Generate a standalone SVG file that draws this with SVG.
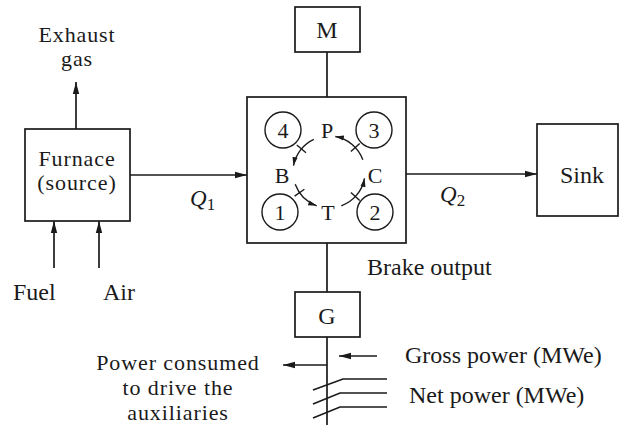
<svg xmlns="http://www.w3.org/2000/svg" width="620" height="425" viewBox="0 0 620 425">
<defs>
<marker id="ah" viewBox="0 0 12 8" refX="12" refY="4" markerWidth="12" markerHeight="8" markerUnits="userSpaceOnUse" orient="auto">
<path d="M0,0.8 L12,4 L0,7.2 z" fill="#1a1a1a"/>
</marker>
<marker id="ahs" viewBox="0 0 10 7" refX="10" refY="3.5" markerWidth="9" markerHeight="6" markerUnits="userSpaceOnUse" orient="auto">
<path d="M0,0.5 L10,3.5 L0,6.5 z" fill="#1a1a1a"/>
</marker>
<style>
.box{fill:#fff;stroke:#1a1a1a;stroke-width:1.7}
.ln{fill:none;stroke:#1a1a1a;stroke-width:1.7}
.thin{fill:none;stroke:#1a1a1a;stroke-width:1.4}
.arr{marker-end:url(#ah)}
.arrs{marker-end:url(#ahs)}
text{font-family:"Liberation Serif","Times New Roman",serif;fill:#1a1a1a;font-size:24px}
.c{text-anchor:middle}
.s{font-size:22px}
.m{font-size:22px;letter-spacing:0.9px}
.q{font-style:italic;font-size:23px}
.sub{font-size:17px}
</style>
</defs>

<g id="connectors">
<line class="ln arr" x1="76" y1="129" x2="76" y2="82"/>
<line class="ln arr" x1="54" y1="268" x2="54" y2="221"/>
<line class="ln arr" x1="99" y1="268" x2="99" y2="221"/>
<line class="ln arr" x1="130" y1="175" x2="247" y2="175"/>
<line class="ln arr" x1="406" y1="174" x2="537" y2="174"/>
<line class="ln" x1="327" y1="52" x2="327" y2="97"/>
<line class="ln" x1="327" y1="243" x2="327" y2="292"/>
<line class="ln" x1="327" y1="337" x2="327" y2="425"/>
<line class="ln arr" x1="327" y1="365" x2="283" y2="365"/>
<line class="ln arr" x1="377" y1="356" x2="339" y2="356"/>
<polyline class="ln" points="313,390 343,379 387,379"/>
<polyline class="ln" points="313,404 340,393 387,393"/>
<polyline class="ln" points="313,418 340,407 387,407"/>
</g>

<g id="furnace">
<rect class="box" x="25" y="129" width="105" height="92"/>
<text class="c m" x="77" y="166">Furnace</text>
<text class="c m" x="77" y="190">(source)</text>
</g>
<g id="exhaust">
<text class="c m" x="77" y="42">Exhaust</text>
<text class="c m" x="77" y="66">gas</text>
</g>
<g id="fuel"><text x="13" y="300">Fuel</text></g>
<g id="air"><text x="103" y="300">Air</text></g>
<g id="q1"><text class="q" x="190" y="206">Q<tspan class="sub" dy="4" font-style="normal">1</tspan></text></g>
<g id="q2"><text class="q" x="440" y="202">Q<tspan class="sub" dy="4" font-style="normal">2</tspan></text></g>

<g id="m">
<rect class="box" x="295" y="7" width="65" height="45"/>
<text class="c" x="327" y="38">M</text>
</g>

<g id="engine">
<rect class="box" x="247" y="97" width="159" height="146"/>
<circle class="thin" cx="283" cy="130" r="18"/>
<circle class="thin" cx="374" cy="130" r="18"/>
<circle class="thin" cx="280" cy="212" r="18"/>
<circle class="thin" cx="375" cy="212" r="18"/>
<text class="c s" x="283" y="138">4</text>
<text class="c s" x="374" y="138">3</text>
<text class="c s" x="280" y="220">1</text>
<text class="c s" x="375" y="220">2</text>
<text class="c s" x="327" y="138">P</text>
<text class="c s" x="282" y="183">B</text>
<text class="c s" x="375" y="183">C</text>
<text class="c s" x="328" y="220">T</text>
<path class="thin arrs" d="M313.8,139.4 A36,36 0 0 0 293.5,165.7"/>
<path class="thin arrs" d="M295.2,184.3 A36,36 0 0 0 316.7,205.8"/>
<path class="thin arrs" d="M341.3,205.8 A36,36 0 0 0 364.5,178.3"/>
<path class="thin arrs" d="M362.8,159.7 A36,36 0 0 0 335.3,136.5"/>
<line class="thin" x1="306" y1="152.7" x2="296.8" y2="145"/>
<line class="thin" x1="304.4" y1="189.2" x2="294.6" y2="196.1"/>
<line class="thin" x1="350.9" y1="192.5" x2="359.7" y2="200.6"/>
<line class="thin" x1="350.9" y1="151.5" x2="359.7" y2="143.4"/>
</g>

<g id="sink">
<rect class="box" x="537" y="124" width="81" height="92"/>
<text class="c" x="582" y="183">Sink</text>
</g>

<g id="brake"><text x="367" y="275">Brake output</text></g>

<g id="g">
<rect class="box" x="295" y="292" width="65" height="45"/>
<text class="c" x="327" y="324">G</text>
</g>

<g id="aux">
<text class="c m" x="178" y="370">Power consumed</text>
<text class="c m" x="178" y="395">to drive the</text>
<text class="c m" x="178" y="420">auxiliaries</text>
</g>
<g id="gross"><text x="405" y="363">Gross power (MWe)</text></g>
<g id="net"><text x="409" y="403">Net power (MWe)</text></g>
</svg>
